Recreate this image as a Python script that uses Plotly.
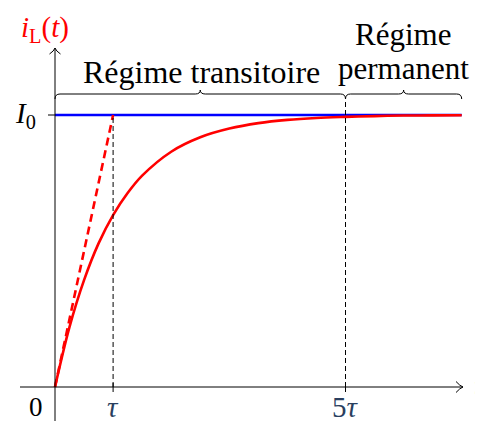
import plotly.graph_objects as go

# ---- data (time in units of tau, current in units of I0) ----
t_curve = [0, 0.25, 0.5, 0.75, 1.0, 1.25, 1.5, 2.0, 2.5, 3.0, 3.5, 4.0, 4.5, 5.0, 5.5, 6.0, 6.5, 7.0]
i_curve = [0, 0.221, 0.393, 0.528, 0.632, 0.713, 0.777, 0.865, 0.918, 0.950, 0.970, 0.982, 0.989, 0.993, 0.996, 0.998, 0.9985, 0.999]
t_final = [0, 7.0]
i_final = [1.0, 1.0]
t_tangent = [0, 1.0]
i_tangent = [0, 1.0]
tick_tau = [1.0, 5.0]
tick_labels = ["<i>τ</i>", "5<i>τ</i>"]

# ---- geometry helpers (reference pixel -> data) ----
W, H = 483, 423
OFF = 8  # page body margin
X0, UX = 55.0, 58.1
Y0, UY = 387.0, 272.0


def dx(p):
    return (p - X0) / UX


def dy(p):
    return (Y0 - p) / UY


FONT = "Liberation Serif"
fig = go.Figure()

fig.add_trace(go.Scatter(x=t_final, y=i_final, mode="lines",
                         line=dict(color="#0000ff", width=2.6), hoverinfo="skip"))
fig.add_trace(go.Scatter(x=t_tangent, y=i_tangent, mode="lines",
                         line=dict(color="#ff0000", width=2.6, dash="8px,5px"), hoverinfo="skip"))
fig.add_trace(go.Scatter(x=t_curve, y=i_curve, mode="lines", line_shape="spline",
                         line=dict(color="#ff0000", width=2.6), hoverinfo="skip"))

shapes = []
axc = dict(color="black", width=1)
# axes
shapes.append(dict(type="line", xref="x", yref="y", x0=dx(20), x1=dx(463), y0=0, y1=0, line=axc))
shapes.append(dict(type="line", xref="x", yref="y", x0=0, x1=0, y0=dy(421), y1=dy(48), line=axc))
# arrow heads
shapes.append(dict(type="path", xref="x", yref="y",
                   path=f"M {dx(456)},{dy(381.5)} Q {dx(460)},{dy(386)} {dx(463)},{dy(387)} Q {dx(460)},{dy(388)} {dx(456)},{dy(392.5)}",
                   line=axc))
shapes.append(dict(type="path", xref="x", yref="y",
                   path=f"M {dx(49.5)},{dy(54)} Q {dx(54)},{dy(51)} {dx(55)},{dy(48)} Q {dx(56)},{dy(51)} {dx(60.5)},{dy(54)}",
                   line=axc))
# ticks
shapes.append(dict(type="line", xref="x", yref="y", x0=dx(48), x1=0, y0=1, y1=1, line=axc))
for tv in tick_tau:
    shapes.append(dict(type="line", xref="x", yref="y", x0=tv, x1=tv, y0=dy(383), y1=dy(392), line=axc))
# dashed guides
dashc = dict(color="black", width=1, dash="5px,3px")
shapes.append(dict(type="line", xref="x", yref="y", x0=tick_tau[0], x1=tick_tau[0], y0=0, y1=1, line=dashc))
shapes.append(dict(type="line", xref="x", yref="y", x0=tick_tau[1], x1=tick_tau[1], y0=0, y1=dy(99), line=dashc))


def brace(a, b, yl=94.0, ye=99.0, yt=90.0, r=5.0):
    m = (a + b) / 2
    pts = (f"M {dx(a)},{dy(ye)} Q {dx(a)},{dy(yl)} {dx(a + r)},{dy(yl)} "
           f"L {dx(m - r)},{dy(yl)} Q {dx(m)},{dy(yl)} {dx(m)},{dy(yt)} "
           f"Q {dx(m)},{dy(yl)} {dx(m + r)},{dy(yl)} "
           f"L {dx(b - r)},{dy(yl)} Q {dx(b)},{dy(yl)} {dx(b)},{dy(ye)}")
    return dict(type="path", xref="x", yref="y", path=pts, line=dict(color="black", width=1))


shapes.append(brace(X0, X0 + 5 * UX))
shapes.append(brace(X0 + 5 * UX, X0 + 7 * UX))

ann = []


def label(text, px, py, size=27, color="black"):
    ann.append(dict(text=text, x=dx(px), y=dy(py), xref="x", yref="y", showarrow=False,
                    xanchor="center", yanchor="middle",
                    font=dict(family=FONT, size=size, color=color)))


label("Régime transitoire", 201, 72, size=32)
label("Régime", 403, 34, size=31)
label("permanent", 403, 68, size=31)
label("<i>i</i><sub>L</sub>(<i>t</i>)", 45, 29, size=29, color="#ff0000")
label("<i>I</i><sub>0</sub>", 25, 115, size=29)
label("0", 36, 407, size=27)
for tv, tl in zip(tick_tau, tick_labels):
    ann.append(dict(text=tl, x=tv, y=dy(407), xref="x", yref="y", showarrow=False,
                    xanchor="center", yanchor="middle", font=dict(family=FONT, size=29)))
label("<i>t</i>", 478, 386, size=29)

fig.update_layout(
    width=W, height=H, margin=dict(l=0, r=0, t=0, b=0),
    paper_bgcolor="white", plot_bgcolor="white", showlegend=False,
    xaxis=dict(range=[dx(OFF), dx(OFF + W)], visible=False, fixedrange=True),
    yaxis=dict(range=[dy(OFF + H), dy(OFF)], visible=False, fixedrange=True),
    shapes=shapes, annotations=ann,
)
fig.write_html("out.html")
